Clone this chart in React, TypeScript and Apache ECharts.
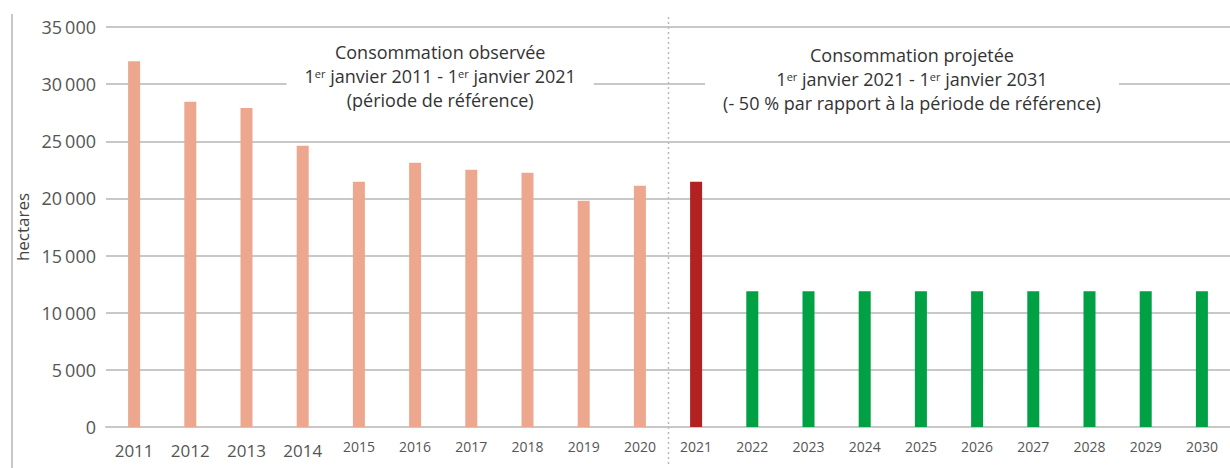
import React, { useEffect, useRef } from "react";
import * as echarts from "echarts";

const years = ["2011","2012","2013","2014","2015","2016","2017","2018","2019","2020","2021","2022","2023","2024","2025","2026","2027","2028","2029","2030"];
const observed = [32000, 28450, 27920, 24600, 21450, 23120, 22510, 22250, 19800, 21120];
const current2021 = 21450;
const projected = [11870, 11870, 11870, 11870, 11870, 11870, 11870, 11870, 11870];
const yTicks = [0, 5000, 10000, 15000, 20000, 25000, 30000, 35000];

const FONT = "Open Sans";
const SALMON = "#EEA78F";
const DARKRED = "#B22222";
const GREEN = "#00A045";

export default function App() {
  const ref = useRef<HTMLDivElement>(null);
  useEffect(() => {
    if (!ref.current) return;
    document.body.style.margin = "0";
    const chart = echarts.init(ref.current, undefined, { renderer: "svg" });
    const data = years.map((y, i) => {
      if (i < observed.length) return { value: observed[i], itemStyle: { color: SALMON } };
      if (i === observed.length) return { value: current2021, itemStyle: { color: DARKRED } };
      return { value: projected[i - observed.length - 1], itemStyle: { color: GREEN } };
    });
    chart.setOption({
      animation: false,
      textStyle: { fontFamily: FONT },
      grid: { left: 106, right: 0, top: 27, bottom: 41, containLabel: false },
      xAxis: {
        type: "category",
        data: years,
        axisLine: { lineStyle: { color: "#c8c8c8", width: 2 } },
        axisTick: { show: false },
        axisLabel: {
          interval: 0,
          margin: 12,
          formatter: (v: string, i: number) => (i < 4 ? `{big|${v}}` : `{small|${v}}`),
          rich: {
            big: { fontSize: 17, color: "#555", fontFamily: FONT, padding: [3, 0, 0, 0] },
            small: { fontSize: 14, color: "#555", fontFamily: FONT },
          },
        },
      },
      yAxis: {
        type: "value",
        min: yTicks[0],
        max: yTicks[yTicks.length - 1],
        interval: 5000,
        name: "hectares",
        nameLocation: "middle",
        nameGap: 64,
        nameTextStyle: { fontSize: 17, color: "#444", fontFamily: FONT },
        axisLine: { show: false },
        axisTick: { show: false },
        axisLabel: {
          fontSize: 18,
          color: "#555",
          margin: 10,
          formatter: (v: number) => {
            const s = String(v);
            return s.length > 3 ? s.slice(0, s.length - 3) + "\u2009" + s.slice(-3) : s;
          },
        },
        splitLine: { lineStyle: { color: "#c8c8c8", width: 2 } },
      },
      series: [
        {
          type: "bar",
          data,
          barWidth: 12,
        },
      ],
    });

    const px = (c: string) => chart.convertToPixel({ xAxisIndex: 0 }, c) as number;
    const divX = Math.round((px("2020") + px("2021")) / 2) + 0.5;

    const rich = {
      sup: { fontSize: 11, lineHeight: 14, verticalAlign: "top", fontFamily: FONT, fill: "#333", padding: [4, 0, 0, 0] },
    };
    const mkText = (x: number, y: number, text: string) => ({
      type: "text",
      x,
      y,
      z: 10,
      style: {
        text,
        fontFamily: FONT,
        fontSize: 18,
        lineHeight: 24,
        fill: "#333",
        align: "center",
        verticalAlign: "top",
        backgroundColor: "#fff",
        padding: [3, 18, 3, 18],
        rich,
      },
    });

    chart.setOption({
      graphic: [
        {
          type: "line",
          shape: { x1: 12, y1: 14, x2: 12, y2: 468 },
          style: { stroke: "#c8c8c8", lineWidth: 2 },
        },
        {
          type: "line",
          z: 5,
          shape: { x1: divX, y1: 17, x2: divX, y2: 466 },
          style: { stroke: "#bbb", lineWidth: 1.5, lineDash: [2, 3] },
        },
        mkText(
          (px("2016") + px("2017")) / 2 - 3,
          37,
          "Consommation observée\n1{sup|er} janvier 2011 - 1{sup|er} janvier 2021\n(période de référence)"
        ),
        mkText(
          (px("2025") + px("2026")) / 2 - 37,
          40,
          "Consommation projetée\n1{sup|er} janvier 2021 - 1{sup|er} janvier 2031\n(- 50 % par rapport à la période de référence)"
        ),
      ],
    });

    return () => chart.dispose();
  }, []);
  return (
    <div
      ref={ref}
      style={{ position: "absolute", left: 0, top: 0, width: 1230, height: 468, background: "#fff" }}
    />
  );
}
